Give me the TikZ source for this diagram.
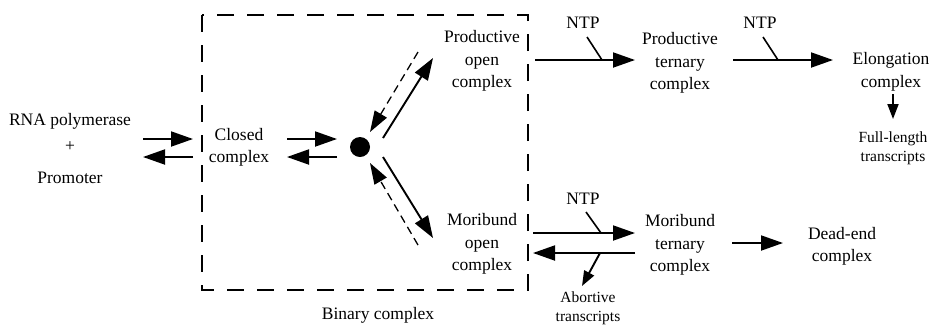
\documentclass[tikz,border=0pt]{standalone}
\usepackage{fontspec}
\setmainfont{Liberation Serif}
\usetikzlibrary{arrows.meta}

\begin{document}
\begin{tikzpicture}[x=1pt,y=-1pt,
  lbl/.style={inner sep=0pt,align=center,font=\fontsize{17.5}{22.5}\selectfont},
  small/.style={inner sep=0pt,align=center,font=\fontsize{15.5}{19}\selectfont},
  rxn/.style={line width=1.9pt,-{Triangle[length=22pt,width=15pt]}},
  rev/.style={line width=1.3pt,dash pattern=on 8pt off 5pt,-{Triangle[length=21pt,width=14pt]}},
  minor/.style={line width=1.9pt,-{Triangle[length=15pt,width=11pt]}},
  ntpline/.style={line width=1.6pt},
  boxline/.style={line width=1.9pt,dash pattern=on 17pt off 13pt}]
\useasboundingbox (0,0) rectangle (931,325);

% species
\node[lbl,anchor=base] (rnap) at (70,125) {RNA polymerase};
\node[lbl] (plus) at (70,147) {+};
\node[lbl,anchor=base] (prom) at (70,183) {Promoter};
\node[lbl] (closed) at (239,147.5) {Closed\\complex};
\node[circle,fill=black,inner sep=0pt,minimum size=20pt] (dot) at (360,147) {};
\node[lbl] (popen) at (482,61) {Productive\\open\\complex};
\node[lbl] (mopen) at (482,244) {Moribund\\open\\complex};
\node[lbl,anchor=base] (binary) at (378,319) {Binary complex};
\node[lbl] (pter) at (680,63) {Productive\\ternary\\complex};
\node[lbl] (elong) at (891,72) {Elongation\\complex};
\node[small] (full) at (893,148) {Full-length\\transcripts};
\node[lbl] (mter) at (680,245) {Moribund\\ternary\\complex};
\node[lbl] (dead) at (842,246.5) {Dead-end\\complex};
\node[small] (abort) at (588,308) {Abortive\\transcripts};
\node[lbl,anchor=base] (ntpa) at (583,28) {NTP};
\node[lbl,anchor=base] (ntpb) at (760,28) {NTP};
\node[lbl,anchor=base] (ntpc) at (583,204) {NTP};

% binary complex boundary
\draw[boxline] (202,15) rectangle (528,290);

% arrow end points
\coordinate (r1) at (143,139); \coordinate (c1) at (193,139);
\coordinate (c2) at (193,157); \coordinate (r2) at (143,157);
\coordinate (c3) at (287,139); \coordinate (d1) at (337,139);
\coordinate (d2) at (337,157); \coordinate (c4) at (287,157);
\coordinate (d3) at (383,138); \coordinate (p1) at (433,58);
\coordinate (p2) at (418,52);  \coordinate (d4) at (370,132);
\coordinate (d5) at (383,157); \coordinate (m1) at (433,238);
\coordinate (m2) at (418,245); \coordinate (d6) at (370,163);
\coordinate (p3) at (535,60);  \coordinate (t1) at (635,60);
\coordinate (na) at (587,37);  \coordinate (nai) at (602,60);
\coordinate (t2) at (733,60);  \coordinate (e1) at (833,60);
\coordinate (nb) at (763,37);  \coordinate (nbi) at (778,60);
\coordinate (e2) at (893,94);  \coordinate (f1) at (893,119);
\coordinate (m3) at (533,233); \coordinate (u1) at (635,233);
\coordinate (nc) at (586,212); \coordinate (nci) at (601,233);
\coordinate (u2) at (635,253); \coordinate (m4) at (533,253);
\coordinate (ab0) at (600,253); \coordinate (ab1) at (582,286);
\coordinate (u3) at (732,243); \coordinate (x1) at (783,243);

% reactions
\draw[rxn] (r1) -- (c1);
\draw[rxn] (c2) -- (r2);
\draw[rxn] (c3) -- (d1);
\draw[rxn] (d2) -- (c4);
\draw[rxn] (d3) -- (p1);
\draw[rev] (p2) -- (d4);
\draw[rxn] (d5) -- (m1);
\draw[rev] (m2) -- (d6);
\draw[rxn] (p3) -- (t1);
\draw[ntpline] (na) -- (nai);
\draw[rxn] (t2) -- (e1);
\draw[ntpline] (nb) -- (nbi);
\draw[minor] (e2) -- (f1);
\draw[rxn] (m3) -- (u1);
\draw[ntpline] (nc) -- (nci);
\draw[rxn] (u2) -- (m4);
\draw[minor] (ab0) -- (ab1);
\draw[rxn] (u3) -- (x1);
\end{tikzpicture}
\end{document}
